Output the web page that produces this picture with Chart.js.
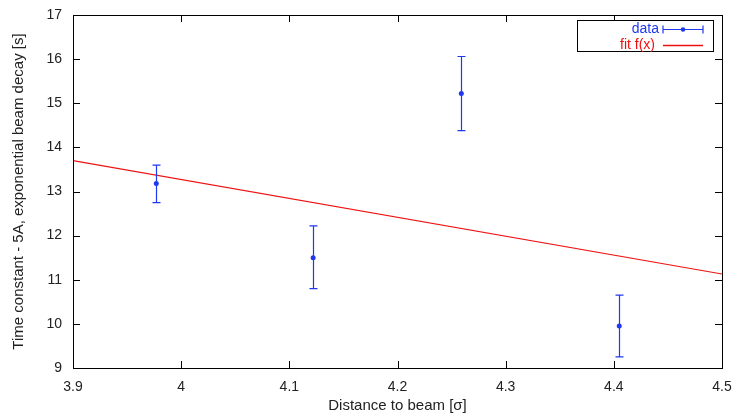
<!DOCTYPE html>
<html>
<head>
<meta charset="utf-8">
<script src="https://cdn.jsdelivr.net/npm/chart.js@4"></script>
<style>
  html, body { margin: 0; padding: 0; background: #fff; }
  #wrap { width: 736px; height: 417px; position: relative; }
</style>
</head>
<body>
<div id="wrap"><canvas id="chart"></canvas></div>
<script>
const distances = [3.977, 4.122, 4.259, 4.405];
const timeConst = [13.18, 11.5, 15.22, 9.95];
const errLow = [12.75, 10.8, 14.38, 9.25];
const errHigh = [13.6, 12.22, 16.06, 10.65];
const fitX = [3.9, 4.5];
const fitY = [13.7, 11.13];
const xTicks = [3.9, 4.0, 4.1, 4.2, 4.3, 4.4, 4.5];
const yTicks = [9, 10, 11, 12, 13, 14, 15, 16, 17];

const blue = '#2038f0';
const red = '#f01010';
const font = "'Liberation Sans', Arial, sans-serif";

// gnuplot-like frame, inward ticks, error bars and the legend box
const gnuplotLook = {
    id: 'gnuplotLook',
    afterDatasetsDraw(chart) {
        const ctx = chart.ctx;
        const { left, right, top, bottom } = chart.chartArea;
        const xs = chart.scales.x, ys = chart.scales.y;
        ctx.save();

        // error bars
        ctx.strokeStyle = blue;
        ctx.lineWidth = 1.2;
        distances.forEach((d, i) => {
            const px = Math.round(xs.getPixelForValue(d)) + 0.5;
            const lo = ys.getPixelForValue(errLow[i]);
            const hi = ys.getPixelForValue(errHigh[i]);
            ctx.beginPath();
            ctx.moveTo(px, lo); ctx.lineTo(px, hi);
            ctx.moveTo(px - 4, lo); ctx.lineTo(px + 4, lo);
            ctx.moveTo(px - 4, hi); ctx.lineTo(px + 4, hi);
            ctx.stroke();
        });

        // frame
        ctx.strokeStyle = '#000';
        ctx.lineWidth = 1;
        ctx.strokeRect(left + 0.5, top + 0.5, right - left, bottom - top);

        // inward ticks on all four sides
        ctx.beginPath();
        xTicks.forEach(v => {
            const px = Math.round(xs.getPixelForValue(v)) + 0.5;
            ctx.moveTo(px, bottom); ctx.lineTo(px, bottom - 7);
            ctx.moveTo(px, top); ctx.lineTo(px, top + 7);
        });
        yTicks.forEach(v => {
            const py = Math.round(ys.getPixelForValue(v)) + 0.5;
            ctx.moveTo(left, py); ctx.lineTo(left + 7, py);
            ctx.moveTo(right, py); ctx.lineTo(right - 7, py);
        });
        ctx.stroke();

        // legend
        const bx = 577, by = 20, bw = 136, bh = 31;
        ctx.fillStyle = '#fff';
        ctx.fillRect(bx, by, bw, bh);
        ctx.strokeRect(bx + 0.5, by + 0.5, bw, bh);
        ctx.font = '14px ' + font;
        ctx.textAlign = 'right';
        ctx.textBaseline = 'middle';
        ctx.fillStyle = blue;
        ctx.fillText('data', bx + 82, by + 9);
        ctx.fillStyle = red;
        ctx.fillText('fit f(x)', bx + 78, by + 25);

        const ly1 = by + 9.5, lx0 = bx + 86, lx1 = bx + 126;
        ctx.strokeStyle = blue;
        ctx.lineWidth = 1.2;
        ctx.beginPath();
        ctx.moveTo(lx0, ly1); ctx.lineTo(lx1, ly1);
        ctx.moveTo(lx0, ly1 - 4); ctx.lineTo(lx0, ly1 + 4);
        ctx.moveTo(lx1, ly1 - 4); ctx.lineTo(lx1, ly1 + 4);
        ctx.stroke();
        ctx.fillStyle = blue;
        ctx.beginPath();
        ctx.arc((lx0 + lx1) / 2, ly1, 2.3, 0, Math.PI * 2);
        ctx.fill();

        ctx.strokeStyle = red;
        ctx.lineWidth = 1.4;
        ctx.beginPath();
        ctx.moveTo(lx0, by + 25.5); ctx.lineTo(lx1, by + 25.5);
        ctx.stroke();

        ctx.restore();
    }
};

new Chart(document.getElementById('chart'), {
    type: 'scatter',
    data: {
        datasets: [
            {
                label: 'data',
                data: distances.map((d, i) => ({ x: d, y: timeConst[i] })),
                pointRadius: 2.5,
                pointBackgroundColor: blue,
                pointBorderWidth: 0,
                showLine: false
            },
            {
                label: 'fit f(x)',
                data: fitX.map((x, i) => ({ x: x, y: fitY[i] })),
                showLine: true,
                borderColor: red,
                borderWidth: 1.2,
                pointRadius: 0,
                fill: false
            }
        ]
    },
    options: {
        responsive: true,
        maintainAspectRatio: false,
        animation: false,
        layout: { padding: { top: 15, right: 14, left: 0, bottom: 0 } },
        plugins: {
            legend: { display: false },
            tooltip: { enabled: false }
        },
        scales: {
            x: {
                type: 'linear',
                min: 3.9,
                max: 4.5,
                afterBuildTicks: axis => { axis.ticks = xTicks.map(v => ({ value: v })); },
                afterFit: axis => { axis.height = 49; },
                grid: { display: false },
                border: { display: false },
                ticks: {
                    color: '#222',
                    font: { family: font, size: 14 },
                    padding: 3,
                    maxRotation: 0,
                    callback: v => String(+v.toFixed(1))
                },
                title: {
                    display: true,
                    text: 'Distance to beam [σ]',
                    color: '#222',
                    font: { family: font, size: 15 },
                    padding: { top: 2, bottom: 2 }
                }
            },
            y: {
                type: 'linear',
                min: 9,
                max: 17,
                afterBuildTicks: axis => { axis.ticks = yTicks.map(v => ({ value: v })); },
                afterFit: axis => { axis.width = 73; },
                grid: { display: false },
                border: { display: false },
                ticks: {
                    color: '#222',
                    font: { family: font, size: 14 },
                    padding: 3
                },
                title: {
                    display: true,
                    text: 'Time constant - 5A, exponential beam decay [s]',
                    color: '#222',
                    font: { family: font, size: 15 },
                    padding: { top: 10, bottom: 0 }
                }
            }
        }
    },
    plugins: [gnuplotLook]
});
</script>
</body>
</html>
